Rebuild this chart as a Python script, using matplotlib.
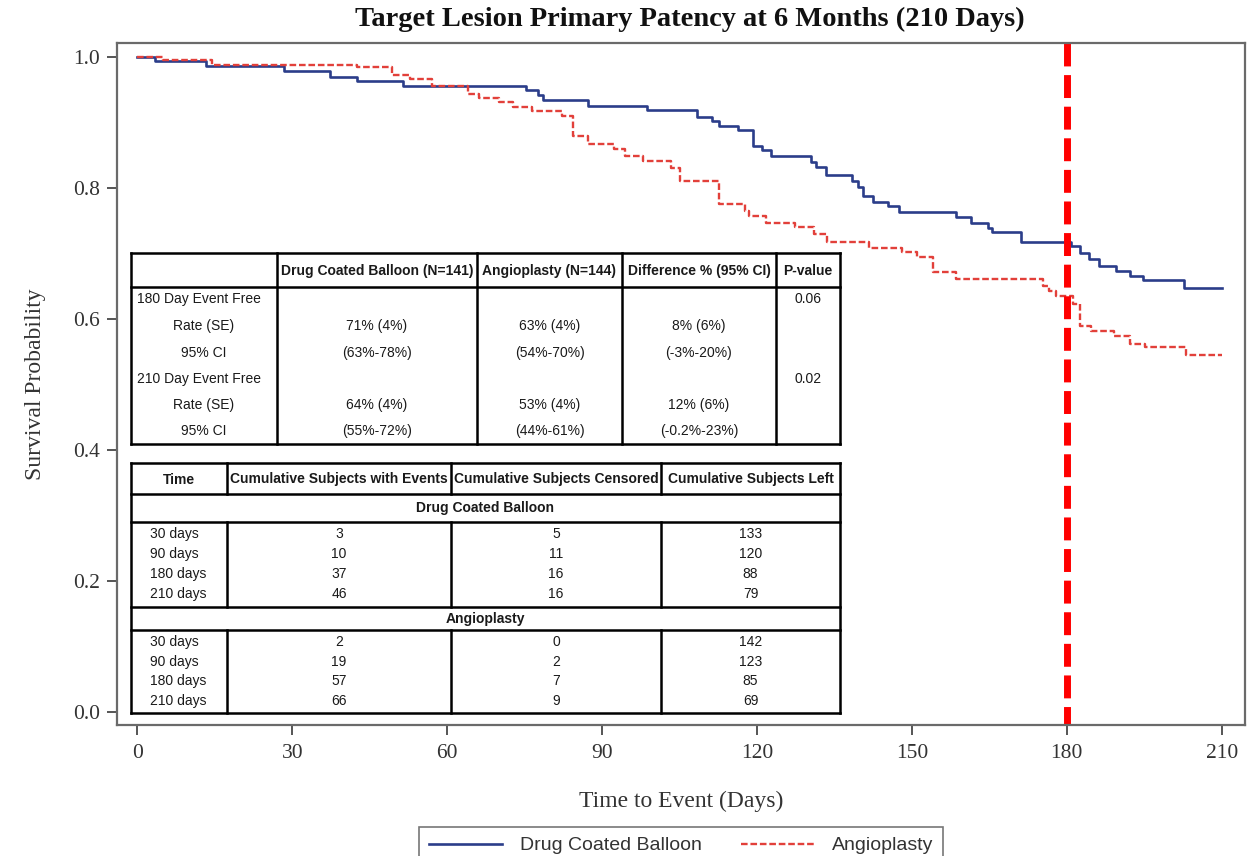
import matplotlib
matplotlib.use("Agg")
import matplotlib.pyplot as plt
from matplotlib.lines import Line2D
from matplotlib.patches import Rectangle

W, H = 1256, 856

# ---------------- data ----------------
title = "Target Lesion Primary Patency at 6 Months (210 Days)"
xlabel = "Time to Event (Days)"
ylabel = "Survival Probability"
xticks = [0, 30, 60, 90, 120, 150, 180, 210]
yticks = [0.0, 0.2, 0.4, 0.6, 0.8, 1.0]
series_names = ["Drug Coated Balloon", "Angioplasty"]
landmark_day = 180

dcb_days = [0, 3.4, 13.4, 28.4, 37.3, 42.5, 51.5, 75.3, 77.5, 78.5, 87.3, 98.7,
            108.4, 111.3, 112.6, 116.4, 119.3, 121.0, 122.7, 130.5, 131.5, 133.4,
            138.4, 139.5, 140.6, 142.5, 145.4, 147.5, 158.5, 161.4, 164.8, 165.6,
            171.1, 180.8, 182.5, 184.2, 186.3, 189.6, 192.3, 194.7, 202.7, 210]
dcb_surv = [1.0, 0.994, 0.986, 0.979, 0.970, 0.964, 0.956, 0.949, 0.942, 0.934, 0.925, 0.919,
            0.908, 0.902, 0.895, 0.888, 0.864, 0.858, 0.849, 0.839, 0.832, 0.820,
            0.811, 0.801, 0.788, 0.779, 0.772, 0.763, 0.755, 0.747, 0.739, 0.733,
            0.718, 0.712, 0.701, 0.691, 0.681, 0.673, 0.666, 0.659, 0.648, 0.648]

pta_days = [0, 5.0, 14.4, 42.5, 49.3, 52.8, 57.0, 64.1, 66.2, 70.0, 72.7, 76.4, 82.2,
            84.4, 87.3, 92.4, 94.5, 97.9, 103.3, 105.0, 112.6, 117.6, 118.5, 121.8,
            127.3, 131.1, 133.6, 141.6, 148.0, 150.9, 154.1, 158.5, 175.3, 176.6,
            177.9, 181.2, 182.5, 184.6, 189.2, 192.2, 195.1, 203.1, 210]
pta_surv = [1.0, 0.996, 0.988, 0.984, 0.973, 0.966, 0.955, 0.944, 0.938, 0.931, 0.924, 0.917, 0.910,
            0.880, 0.867, 0.859, 0.849, 0.842, 0.831, 0.811, 0.775, 0.765, 0.758, 0.747,
            0.740, 0.730, 0.718, 0.709, 0.703, 0.694, 0.672, 0.661, 0.651, 0.643,
            0.635, 0.623, 0.590, 0.582, 0.574, 0.562, 0.557, 0.545, 0.545]

rate_header = ["", "Drug Coated Balloon (N=141)", "Angioplasty (N=144)",
               "Difference % (95% CI)", "P-value"]
rate_labels = ["180 Day Event Free", "Rate (SE)", "95% CI",
               "210 Day Event Free", "Rate (SE)", "95% CI"]
rate_dcb = ["", "71% (4%)", "(63%-78%)", "", "64% (4%)", "(55%-72%)"]
rate_pta = ["", "63% (4%)", "(54%-70%)", "", "53% (4%)", "(44%-61%)"]
rate_diff = ["", "8% (6%)", "(-3%-20%)", "", "12% (6%)", "(-0.2%-23%)"]
rate_p = ["0.06", "", "", "0.02", "", ""]

risk_header = ["Time", "Cumulative Subjects with Events",
               "Cumulative Subjects Censored", "Cumulative Subjects Left"]
risk_times = ["30 days", "90 days", "180 days", "210 days"]
dcb_events = [3, 10, 37, 46]
dcb_censored = [5, 11, 16, 16]
dcb_left = [133, 120, 88, 79]
pta_events = [2, 19, 57, 66]
pta_censored = [0, 2, 7, 9]
pta_left = [142, 123, 85, 69]

# ---------------- style ----------------
BLUE = "#2b3d8a"
RED = "#e2403a"
SERIF = ["Liberation Serif", "DejaVu Serif"]
SANS = ["Liberation Sans", "DejaVu Sans"]
plt.rcParams["font.family"] = SERIF

fig = plt.figure(figsize=(W / 100, H / 100), dpi=100)
fig.patch.set_facecolor("white")
ax_l, ax_r, ax_t, ax_b = 117, 1245, 43, 725
ax = fig.add_axes([ax_l / W, 1 - ax_b / H, (ax_r - ax_l) / W, (ax_b - ax_t) / H])

l1, = ax.step(dcb_days, dcb_surv, where="post", color=BLUE, lw=1.9,
              label=series_names[0])
l2, = ax.step(pta_days, pta_surv, where="post", color=RED, lw=1.7,
              linestyle=(0, (2.8, 1.2)), label=series_names[1])
ax.plot([landmark_day, landmark_day], [1, 0], transform=ax.get_xaxis_transform(),
        color="#ff0000", lw=5, linestyle=(0, (3.3, 1.25)), solid_capstyle="butt")

ax.set_xlim(-3.93, 214.5)
ax.set_ylim(-0.0198, 1.0214)
ax.set_xticks(xticks)
ax.set_xticklabels([str(t) for t in xticks])
ax.set_yticks(yticks)
ax.set_yticklabels([f"{t:.1f}" for t in yticks])
for s in ax.spines.values():
    s.set_color("#6a6a6a")
    s.set_linewidth(1.6)
ax.tick_params(axis="both", direction="out", length=7, width=1.4, color="#555555",
               labelsize=15.5, labelcolor="#333333")
ax.tick_params(axis="x", pad=7)
ax.tick_params(axis="y", pad=5)
ax.set_xlabel(xlabel, fontsize=17, color="#333333", labelpad=20)
ax.set_ylabel(ylabel, fontsize=17, color="#333333", labelpad=20)

fig.text(690 / W, 1 - 19 / H, title, ha="center", va="center", fontsize=20.5,
         fontweight="bold", family=SERIF, color="#111111")

leg = fig.legend(handles=[l1, l2], labels=series_names, loc="upper center",
                 bbox_to_anchor=(681 / W, 1 - 827 / H), ncol=2, frameon=True,
                 fancybox=False, edgecolor="#777777", framealpha=1,
                 prop={"family": SANS, "size": 14}, handlelength=3.8,
                 handletextpad=0.9, columnspacing=2.0, borderpad=0.5,
                 borderaxespad=0)
leg.get_frame().set_linewidth(1.2)
for t in leg.get_texts():
    t.set_color("#333333")

# ---------------- tables ----------------
TLW = 1.8


def fx(x):
    return x / W


def fy(y):
    return 1 - y / H


def hline(x0, x1, y):
    fig.add_artist(Line2D([fx(x0), fx(x1)], [fy(y), fy(y)], transform=fig.transFigure,
                          color="black", lw=TLW, solid_capstyle="projecting", zorder=4))


def vline(x, y0, y1):
    fig.add_artist(Line2D([fx(x), fx(x)], [fy(y0), fy(y1)], transform=fig.transFigure,
                          color="black", lw=TLW, solid_capstyle="projecting", zorder=4))


def box_bg(x0, y0, x1, y1):
    fig.add_artist(Rectangle((fx(x0), fy(y1)), fx(x1) - fx(x0), fy(y0) - fy(y1),
                             transform=fig.transFigure, facecolor="white",
                             edgecolor="none", zorder=3))


def txt(x, y, s, ha="center", bold=False):
    fig.text(fx(x), fy(y), s, ha=ha, va="center", fontsize=10, family=SANS,
             fontweight="bold" if bold else "normal", color="#1a1a1a", zorder=5)


# Table 1: event-free rates
t1x = [131, 277, 477, 622, 776, 840]
t1_top, t1_hb, t1_bot = 253, 287, 444
t1_rows = [299, 326, 353, 379, 405, 431]
box_bg(t1x[0], t1_top, t1x[-1], t1_bot)
hline(t1x[0], t1x[-1], t1_top)
hline(t1x[0], t1x[-1], t1_hb)
hline(t1x[0], t1x[-1], t1_bot)
for x in t1x:
    vline(x, t1_top, t1_bot)
for j, h in enumerate(rate_header):
    txt((t1x[j] + t1x[j + 1]) / 2, (t1_top + t1_hb) / 2 + 1, h, bold=True)
cols = [rate_dcb, rate_pta, rate_diff, rate_p]
for i, y in enumerate(t1_rows):
    lab = rate_labels[i]
    if "Event Free" in lab:
        txt(t1x[0] + 6, y, lab, ha="left")
    else:
        txt((t1x[0] + t1x[1]) / 2, y, lab)
    for j, col in enumerate(cols):
        if col[i]:
            txt((t1x[j + 1] + t1x[j + 2]) / 2, y, col[i])

# Table 2: cumulative subjects
t2x = [131, 227, 451, 661, 840]
t2_top, t2_hb, t2_g1b, t2_b1b, t2_g2b, t2_bot = 463, 494, 522, 607, 630, 713
rows1 = [534, 554, 574, 594]
rows2 = [642, 662, 681, 701]
box_bg(t2x[0], t2_top, t2x[-1], t2_bot)
for y in [t2_top, t2_hb, t2_g1b, t2_b1b, t2_g2b, t2_bot]:
    hline(t2x[0], t2x[-1], y)
vline(t2x[0], t2_top, t2_bot)
vline(t2x[-1], t2_top, t2_bot)
for x in t2x[1:-1]:
    vline(x, t2_top, t2_hb)
    vline(x, t2_g1b, t2_b1b)
    vline(x, t2_g2b, t2_bot)
for j, h in enumerate(risk_header):
    txt((t2x[j] + t2x[j + 1]) / 2, (t2_top + t2_hb) / 2 + 1, h, bold=True)
txt((t2x[0] + t2x[-1]) / 2, (t2_hb + t2_g1b) / 2, series_names[0], bold=True)
txt((t2x[0] + t2x[-1]) / 2, (t2_b1b + t2_g2b) / 2 + 1, series_names[1], bold=True)
for rows, ev, ce, le in [(rows1, dcb_events, dcb_censored, dcb_left),
                         (rows2, pta_events, pta_censored, pta_left)]:
    for i, y in enumerate(rows):
        txt(t2x[0] + 19, y, risk_times[i], ha="left")
        for j, v in enumerate([ev[i], ce[i], le[i]]):
            txt((t2x[j + 1] + t2x[j + 2]) / 2, y, str(v))

fig.savefig("out.png", dpi=100, facecolor="white")
